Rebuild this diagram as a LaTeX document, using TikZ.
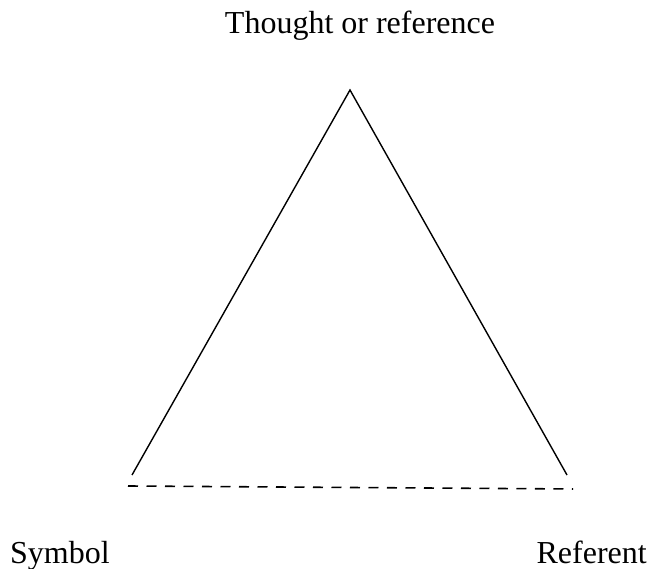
\documentclass[tikz,border=0pt]{standalone}
\usepackage{fontspec}
\setmainfont{Liberation Serif}
\begin{document}
\begin{tikzpicture}[x=1pt,y=-1pt,
  lbl/.style={inner sep=0pt,font=\fontsize{32}{35}\selectfont},
  side/.style={line width=1.4pt,black},
  dotline/.style={line width=1.6pt,dash pattern=on 10pt off 8.5pt}]
\useasboundingbox (0,0) rectangle (651,569);
\coordinate (apex) at (350,90);
\coordinate (bl) at (132,475);
\coordinate (br) at (567,475);
\coordinate (dl) at (128,486);
\coordinate (dr) at (573,489);
\draw[side] (bl) -- (apex) -- (br);
\draw[dotline] (dl) -- (dr);
\node[lbl,anchor=base] (top) at (360,34) {Thought or reference};
\node[lbl,anchor=base west] (sym) at (10,563) {Symbol};
\node[lbl,anchor=base east] (ref) at (647,563) {Referent};
\end{tikzpicture}
\end{document}
